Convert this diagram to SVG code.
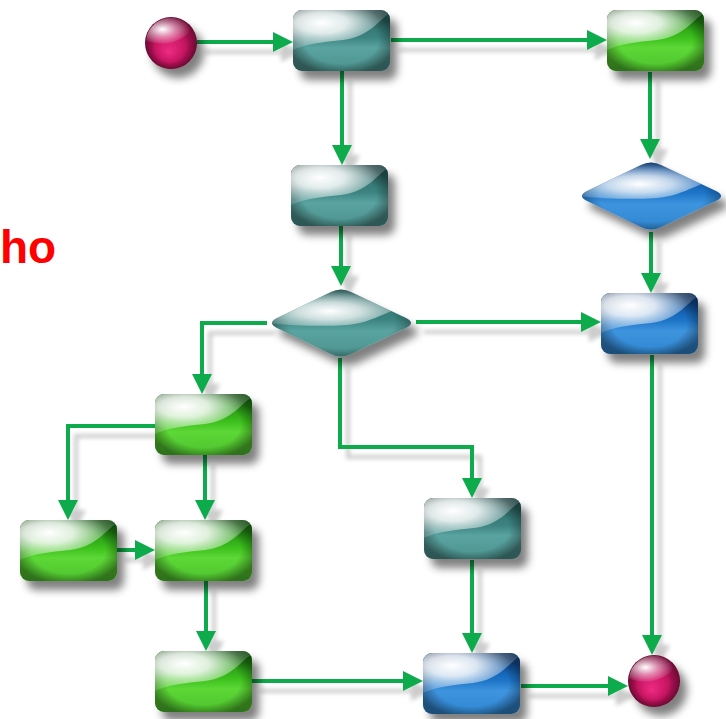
<svg xmlns="http://www.w3.org/2000/svg" xmlns:xlink="http://www.w3.org/1999/xlink" width="726" height="719" viewBox="0 0 726 719">
  <defs>
    <style>
      .wire { fill: none; stroke: #0cab4c; stroke-width: 4; marker-end: url(#head); }
      .node { filter: url(#drop); }
      /* body colour is inherited into the shared box/diamond shapes */
      .teal { fill: url(#tealBody); }
      .green { fill: url(#greenBody); }
      .blue { fill: url(#blueBody); }
      .vig { fill: url(#vignette); }
      .gloss { fill: url(#glossFill); }
      .dgloss { fill: url(#dGlossFill); }
      .label { font-family: "Liberation Sans", Arial, sans-serif; font-weight: bold; font-size: 46px; fill: #ff0000; }
    </style>

    <!-- arrowhead -->
    <marker id="head" viewBox="0 0 20 20" markerUnits="userSpaceOnUse" markerWidth="20" markerHeight="20" refX="12" refY="10" orient="auto">
      <path d="M0,0 L20,10 L0,20 Z" fill="#0cab4c"/>
    </marker>

    <!-- soft drop shadows -->
    <filter id="drop" x="-20%" y="-20%" width="150%" height="160%">
      <feGaussianBlur in="SourceAlpha" stdDeviation="4"/>
      <feOffset dx="7" dy="9"/>
      <feComponentTransfer><feFuncA type="linear" slope="0.5"/></feComponentTransfer>
      <feMerge><feMergeNode/><feMergeNode in="SourceGraphic"/></feMerge>
    </filter>
    <filter id="wireShadow" x="-10%" y="-10%" width="130%" height="130%">
      <feGaussianBlur in="SourceAlpha" stdDeviation="2"/>
      <feOffset dx="8" dy="10"/>
      <feComponentTransfer><feFuncA type="linear" slope="0.2"/></feComponentTransfer>
      <feMerge><feMergeNode/><feMergeNode in="SourceGraphic"/></feMerge>
    </filter>

    <!-- glossy fills -->
    <linearGradient id="tealBody" x1="0" y1="0" x2="0" y2="1">
      <stop offset="0" stop-color="#2a6463"/>
      <stop offset="0.45" stop-color="#3c8481"/>
      <stop offset="0.62" stop-color="#5aa3a0"/>
      <stop offset="1" stop-color="#4c938f"/>
    </linearGradient>
    <linearGradient id="greenBody" x1="0" y1="0" x2="0" y2="1">
      <stop offset="0" stop-color="#137210"/>
      <stop offset="0.45" stop-color="#3cbf1c"/>
      <stop offset="0.62" stop-color="#5cd836"/>
      <stop offset="1" stop-color="#4fc22e"/>
    </linearGradient>
    <linearGradient id="blueBody" x1="0" y1="0" x2="0" y2="1">
      <stop offset="0" stop-color="#08418a"/>
      <stop offset="0.45" stop-color="#1d74c7"/>
      <stop offset="0.62" stop-color="#3e94de"/>
      <stop offset="1" stop-color="#3086d0"/>
    </linearGradient>
    <radialGradient id="vignette" cx="0.5" cy="0.5" r="0.56">
      <stop offset="0.68" stop-color="#000" stop-opacity="0"/>
      <stop offset="1" stop-color="#000" stop-opacity="0.42"/>
    </radialGradient>
    <radialGradient id="glossFill" cx="0.3" cy="0.32" r="0.85">
      <stop offset="0" stop-color="#fff" stop-opacity="1"/>
      <stop offset="0.3" stop-color="#fff" stop-opacity="0.85"/>
      <stop offset="0.7" stop-color="#fff" stop-opacity="0.25"/>
      <stop offset="1" stop-color="#fff" stop-opacity="0"/>
    </radialGradient>
    <radialGradient id="dGlossFill" cx="0.42" cy="0.62" r="0.62">
      <stop offset="0" stop-color="#fff" stop-opacity="1"/>
      <stop offset="0.35" stop-color="#fff" stop-opacity="0.75"/>
      <stop offset="0.8" stop-color="#fff" stop-opacity="0.15"/>
      <stop offset="1" stop-color="#fff" stop-opacity="0"/>
    </radialGradient>
    <radialGradient id="sphereBody" cx="0.5" cy="0.5" r="0.5" fx="0.45" fy="0.68">
      <stop offset="0" stop-color="#ee2c82"/>
      <stop offset="0.55" stop-color="#c81663"/>
      <stop offset="1" stop-color="#680630"/>
    </radialGradient>
    <radialGradient id="sphereGloss" cx="0.35" cy="0.45" r="0.6">
      <stop offset="0" stop-color="#fff" stop-opacity="1"/>
      <stop offset="0.45" stop-color="#fff" stop-opacity="0.5"/>
      <stop offset="1" stop-color="#fff" stop-opacity="0"/>
    </radialGradient>

    <!-- shared shapes, local coordinates -->
    <rect id="boxShape" width="97" height="61" rx="9"/>
    <path id="diaShape" d="M64,5 Q74,0 84,5 L139,31 Q149,36 139,41 L84,67 Q74,72 64,67 L10,41 Q0,36 10,31 Z"/>
    <clipPath id="boxClip"><use xlink:href="#boxShape"/></clipPath>
    <clipPath id="diaClip"><use xlink:href="#diaShape"/></clipPath>

    <g id="box">
      <use xlink:href="#boxShape"/>
      <use class="vig" xlink:href="#boxShape"/>
      <path class="gloss" clip-path="url(#boxClip)" d="M0,0 H97 V3 C86,10 76,27 50,30 C30,32 12,34 0,40 Z"/>
    </g>
    <g id="diamond">
      <use xlink:href="#diaShape"/>
      <use class="vig" xlink:href="#diaShape"/>
      <path class="dgloss" clip-path="url(#diaClip)" d="M0,0 H149 V16 C122,22 106,36 80,38 C50,40 20,38 0,36 Z"/>
    </g>
    <g id="sphere">
      <circle r="26" fill="url(#sphereBody)"/>
      <path d="M-25,-2 A25,25 0 0 1 22,-12 C12,-6 2,6 -25,-2 Z" fill="url(#sphereGloss)"/>
    </g>
  </defs>

  <rect width="726" height="719" fill="#ffffff"/>

  <text class="label" x="0" y="263">ho</text>

  <!-- connectors -->
  <g id="connectors" filter="url(#wireShadow)">
    <path class="wire" d="M197,42 H285"/>
    <path class="wire" d="M391,40 H599"/>
    <path class="wire" d="M342,71 V157"/>
    <path class="wire" d="M650,72 V151"/>
    <path class="wire" d="M341,226 V278"/>
    <path class="wire" d="M416,322 H593"/>
    <path class="wire" d="M651,232 V285"/>
    <path class="wire" d="M267,323 H202 V386"/>
    <path class="wire" d="M340,358 V447 H472 V490"/>
    <path class="wire" d="M652,355 V647"/>
    <path class="wire" d="M155,426 H68 V512"/>
    <path class="wire" d="M205,455 V512"/>
    <path class="wire" d="M117,550 H147"/>
    <path class="wire" d="M206,581 V643"/>
    <path class="wire" d="M252,681 H415"/>
    <path class="wire" d="M472,560 V645"/>
    <path class="wire" d="M521,686 H620"/>
  </g>

  <!-- nodes -->
  <g id="start" class="node" transform="translate(171,43)"><use xlink:href="#sphere"/></g>
  <g id="stepA" class="node teal" transform="translate(293,10)"><use xlink:href="#box"/></g>
  <g id="stepB" class="node green" transform="translate(607,10)"><use xlink:href="#box"/></g>
  <g id="stepC" class="node teal" transform="translate(291,165)"><use xlink:href="#box"/></g>
  <g id="decision1" class="node teal" transform="translate(267,287)"><use xlink:href="#diamond"/></g>
  <g id="decision2" class="node blue" transform="translate(577,160)"><use xlink:href="#diamond"/></g>
  <g id="stepD" class="node blue" transform="translate(601,293)"><use xlink:href="#box"/></g>
  <g id="stepE" class="node green" transform="translate(155,394)"><use xlink:href="#box"/></g>
  <g id="stepF" class="node green" transform="translate(20,520)"><use xlink:href="#box"/></g>
  <g id="stepG" class="node green" transform="translate(155,520)"><use xlink:href="#box"/></g>
  <g id="stepH" class="node teal" transform="translate(424,498)"><use xlink:href="#box"/></g>
  <g id="stepI" class="node green" transform="translate(155,651)"><use xlink:href="#box"/></g>
  <g id="stepJ" class="node blue" transform="translate(423,653)"><use xlink:href="#box"/></g>
  <g id="end" class="node" transform="translate(654,681)"><use xlink:href="#sphere"/></g>
</svg>
